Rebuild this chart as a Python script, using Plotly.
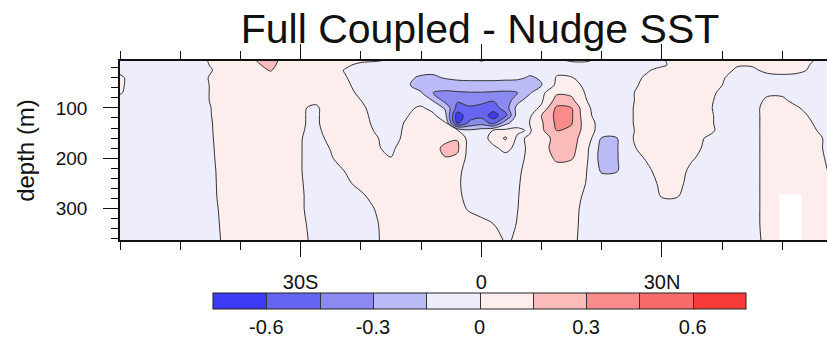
import plotly.graph_objects as go

# Latitude nodes (degrees, negative = south) and depth levels (m)
lat = [-60, -57.5, -55, -52.5, -50, -47.5, -45, -42.5, -40, -37.5, -35, -32.5,
       -30, -27.5, -25, -22.5, -20, -17.5, -15, -12.5, -10, -8, -6, -4, -2, 0,
       2, 4, 6, 8, 10, 12.5, 15, 17.5, 20, 22.5, 25, 27.5, 30, 32.5, 35, 37.5,
       40, 42.5, 45, 47.5, 50, 52.5, 55, 57.5]
depth = [5, 15, 25, 40, 55, 70, 85, 100, 115, 130, 145, 160, 180, 200, 225,
         250, 275, 300, 330, 362]

# Temperature difference (Full Coupled minus Nudge SST), one row per depth
d5 = [-0.05,-0.06,-0.06,-0.06,-0.06,-0.06,0.015,0.06,0.08,0.15,0.24,0.06,0.06,0.06,0.05,0.04,0.03,0.02,-0.01,-0.05,-0.06,-0.07,-0.07,-0.07,-0.05,0.02,-0.04,-0.06,-0.07,-0.07,-0.06,-0.02,0.02,0.02,-0.03,-0.06,-0.05,-0.04,-0.01,0.04,0.06,0.07,0.07,0.04,0.04,0.05,0.06,0.05,0.005,-0.05]
d15 = [-0.05,-0.06,-0.06,-0.06,-0.06,-0.06,0.005,0.06,0.07,0.12,0.2,0.06,0.06,0.06,0.05,0.02,-0.03,-0.05,-0.06,-0.07,-0.08,-0.1,-0.1,-0.1,-0.09,-0.07,-0.07,-0.09,-0.1,-0.1,-0.09,-0.05,-0.04,-0.04,-0.06,-0.07,-0.06,-0.04,-0.02,0.04,0.06,0.07,0.06,0.01,0.01,0.04,0.05,0.04,-0.01,-0.06]
d25 = [-0.03,-0.06,-0.06,-0.06,-0.06,-0.06,-0.01,0.06,0.06,0.1,0.16,0.07,0.06,0.06,0.05,-0.01,-0.05,-0.07,-0.08,-0.09,-0.1,-0.12,-0.12,-0.12,-0.11,-0.1,-0.1,-0.11,-0.12,-0.12,-0.11,-0.03,-0.04,-0.06,-0.07,-0.07,-0.06,-0.015,0.04,0.06,0.07,0.07,0.05,-0.02,-0.02,0.03,0.04,0.03,-0.02,-0.06]
d40 = [0.02,-0.05,-0.06,-0.06,-0.06,-0.06,0.01,0.06,0.06,0.07,0.09,0.07,0.06,0.06,0.05,0.005,-0.05,-0.08,-0.09,-0.12,-0.17,-0.17,-0.14,-0.13,-0.13,-0.13,-0.13,-0.13,-0.13,-0.16,-0.14,0.01,0.005,-0.05,-0.07,-0.07,-0.04,0.02,0.06,0.07,0.07,0.05,0.01,-0.04,-0.05,-0.04,-0.03,-0.04,-0.05,-0.06]
d55 = [0.02,-0.05,-0.06,-0.06,-0.06,-0.06,0.005,0.06,0.06,0.06,0.06,0.06,0.06,0.06,0.05,0.02,-0.04,-0.07,-0.09,-0.13,-0.2,-0.24,-0.22,-0.19,-0.18,-0.18,-0.18,-0.19,-0.2,-0.2,-0.155,0.03,0.03,-0.02,-0.05,-0.07,-0.03,0.04,0.07,0.07,0.06,0.05,0.0,-0.05,-0.06,-0.06,-0.05,-0.05,-0.06,-0.06]
d70 = [0.01,-0.05,-0.06,-0.06,-0.06,-0.06,0.005,0.06,0.06,0.06,0.06,0.06,0.05,0.05,0.05,0.03,-0.02,-0.05,-0.08,-0.1,-0.14,-0.3,-0.33,-0.32,-0.31,-0.31,-0.32,-0.33,-0.3,-0.17,-0.04,0.13,0.12,-0.02,-0.06,-0.06,-0.01,0.05,0.07,0.07,0.06,0.03,-0.02,-0.05,-0.05,-0.02,-0.02,-0.05,-0.06,-0.06]
d85 = [-0.04,-0.06,-0.06,-0.06,-0.06,-0.06,0.005,0.06,0.06,0.06,0.06,0.06,0.03,0.02,0.05,0.05,0.0,-0.04,-0.07,-0.07,-0.06,-0.16,-0.36,-0.43,-0.42,-0.43,-0.44,-0.4,-0.2,-0.08,-0.02,0.2,0.18,0.0,-0.06,-0.06,-0.01,0.05,0.07,0.07,0.06,0.03,-0.04,-0.05,-0.05,0.02,0.02,-0.04,-0.06,-0.06]
d100 = [-0.05,-0.06,-0.06,-0.06,-0.06,-0.06,-0.003,0.06,0.06,0.06,0.06,0.05,0.01,-0.015,0.05,0.05,0.02,-0.04,-0.06,-0.03,0.02,-0.05,-0.17,-0.5,-0.46,-0.47,-0.52,-0.38,-0.1,-0.05,0.02,0.33,0.3,0.02,-0.06,-0.06,-0.005,0.05,0.07,0.07,0.06,0.02,-0.04,-0.05,-0.04,0.04,0.05,0.01,-0.05,-0.06]
d115 = [-0.05,-0.06,-0.06,-0.06,-0.06,-0.06,-0.005,0.06,0.06,0.06,0.06,0.05,0.01,-0.02,0.06,0.06,0.04,-0.04,-0.06,-0.01,0.05,0.03,-0.1,-0.68,-0.52,-0.5,-0.68,-0.5,-0.08,-0.03,0.15,0.34,0.32,0.03,-0.06,-0.07,-0.005,0.05,0.07,0.07,0.05,0.03,-0.04,-0.05,-0.04,0.04,0.05,0.04,-0.02,-0.06]
d130 = [-0.05,-0.06,-0.06,-0.06,-0.06,-0.06,-0.01,0.06,0.06,0.06,0.06,0.05,0.01,-0.02,0.06,0.06,0.05,-0.03,-0.05,0.01,0.06,0.06,0.02,-0.64,-0.42,-0.36,-0.5,-0.2,-0.05,0.0,0.13,0.33,0.31,0.06,-0.05,-0.07,-0.005,0.05,0.07,0.07,0.05,0.03,-0.04,-0.05,-0.04,0.04,0.05,0.05,0.0,-0.06]
d145 = [-0.05,-0.06,-0.06,-0.06,-0.06,-0.06,-0.012,0.06,0.06,0.06,0.06,0.05,0.01,-0.03,0.05,0.06,0.05,-0.01,-0.05,0.02,0.06,0.07,0.1,0.02,-0.12,-0.08,0.01,0.04,0.03,-0.02,0.12,0.3,0.27,0.07,-0.06,-0.08,-0.01,0.05,0.07,0.07,0.05,0.03,-0.03,-0.05,-0.04,0.04,0.05,0.05,0.02,-0.05]
d160 = [-0.05,-0.06,-0.06,-0.06,-0.06,-0.06,-0.015,0.06,0.06,0.06,0.06,0.05,0.005,-0.04,0.03,0.06,0.05,0.01,-0.05,0.03,0.06,0.07,0.09,0.14,-0.06,-0.07,0.06,0.17,-0.03,0.02,0.08,0.2,0.2,0.08,-0.16,-0.155,-0.005,0.05,0.07,0.07,0.04,-0.01,-0.04,-0.05,-0.04,0.04,0.05,0.05,0.04,-0.02]
d180 = [-0.05,-0.06,-0.06,-0.06,-0.06,-0.06,-0.02,0.06,0.06,0.06,0.06,0.05,0.005,-0.05,0.005,0.05,0.05,0.01,-0.02,0.05,0.06,0.08,0.2,0.18,-0.06,-0.07,-0.03,0.04,-0.04,0.02,0.1,0.2,0.2,0.03,-0.2,-0.16,-0.02,0.05,0.07,0.07,0.03,-0.02,-0.05,-0.05,-0.04,0.04,0.05,0.05,0.04,-0.02]
d200 = [-0.05,-0.06,-0.06,-0.06,-0.06,-0.06,-0.025,0.06,0.06,0.06,0.06,0.05,0.005,-0.05,-0.01,0.05,0.05,0.02,0.003,0.05,0.06,0.07,0.14,0.12,-0.06,-0.07,-0.07,-0.05,-0.04,0.03,0.08,0.17,0.16,0.02,-0.21,-0.16,-0.04,0.01,0.06,0.06,0.01,-0.04,-0.05,-0.05,-0.04,0.04,0.05,0.05,0.04,-0.01]
d225 = [-0.05,-0.06,-0.06,-0.06,-0.06,-0.06,-0.035,0.06,0.06,0.06,0.06,0.05,0.005,-0.05,-0.04,0.005,0.05,0.06,0.06,0.06,0.06,0.06,0.06,0.03,-0.05,-0.06,-0.06,-0.05,-0.02,0.04,0.07,0.1,0.1,0.0,-0.17,-0.16,-0.06,-0.02,0.04,0.05,-0.03,-0.05,-0.05,-0.05,-0.04,0.04,0.05,0.05,0.05,0.0]
d250 = [-0.05,-0.06,-0.06,-0.06,-0.06,-0.06,-0.04,0.06,0.06,0.06,0.06,0.05,0.01,-0.05,-0.05,-0.02,0.03,0.06,0.06,0.06,0.06,0.06,0.06,0.02,-0.05,-0.06,-0.06,-0.05,-0.01,0.04,0.06,0.07,0.06,-0.005,-0.06,-0.06,-0.06,-0.04,0.02,0.03,-0.04,-0.05,-0.05,-0.05,-0.04,0.04,0.05,0.05,0.05,0.03]
d275 = [-0.05,-0.06,-0.06,-0.06,-0.06,-0.06,-0.045,0.06,0.06,0.06,0.06,0.05,0.015,-0.05,-0.06,-0.05,-0.02,0.04,0.06,0.06,0.06,0.06,0.06,0.02,-0.03,-0.05,-0.05,-0.04,-0.005,0.04,0.06,0.06,0.04,-0.02,-0.06,-0.06,-0.06,-0.05,0.005,0.005,-0.05,-0.06,-0.06,-0.05,-0.04,0.04,0.05,0.05,0.05,0.05]
d300 = [-0.05,-0.06,-0.06,-0.06,-0.06,-0.06,-0.06,0.055,0.06,0.06,0.06,0.05,0.015,-0.05,-0.06,-0.06,-0.04,0.005,0.06,0.06,0.06,0.06,0.06,0.03,-0.01,-0.04,-0.04,-0.04,-0.002,0.04,0.06,0.06,0.04,-0.04,-0.06,-0.06,-0.06,-0.05,-0.03,-0.03,-0.05,-0.06,-0.06,-0.05,-0.04,0.04,0.05,0.05,0.05,0.05]
d330 = [-0.05,-0.06,-0.06,-0.06,-0.06,-0.06,-0.06,0.04,0.06,0.06,0.06,0.05,0.03,-0.05,-0.06,-0.06,-0.05,-0.01,0.05,0.06,0.06,0.06,0.06,0.05,0.04,0.03,0.0,-0.04,0.005,0.04,0.06,0.06,0.04,-0.05,-0.06,-0.06,-0.06,-0.06,-0.06,-0.06,-0.06,-0.06,-0.06,-0.05,-0.04,0.04,0.05,0.05,0.05,0.05]
d362 = [-0.05,-0.06,-0.06,-0.06,-0.06,-0.06,-0.06,0.028,0.06,0.06,0.06,0.06,0.05,-0.05,-0.06,-0.06,-0.05,-0.015,0.05,0.06,0.06,0.06,0.06,0.06,0.05,0.05,0.04,-0.01,0.01,0.04,0.06,0.06,0.03,-0.05,-0.06,-0.06,-0.06,-0.06,-0.06,-0.06,-0.06,-0.06,-0.06,-0.05,-0.04,0.03,0.05,0.05,0.05,0.05]

temp_diff = [d5, d15, d25, d40, d55, d70, d85, d100, d115, d130, d145, d160,
             d180, d200, d225, d250, d275, d300, d330, d362]
for row in temp_diff:
    assert len(row) == len(lat)

# Land below the shelf (left blank)
land_lat = [49.5, 53.2]
land_top = 272

# Contour levels and the ten fill colours
level_start, level_end, level_step = -0.6, 0.6, 0.15
fill_colors = ["#3b3bf5", "#6565f1", "#8a8af0", "#bbbbf8", "#ededfb",
               "#fdeded", "#fbbbbb", "#f98b8b", "#f76b6b", "#f63a3a"]
cbar_ticks = [-0.6, -0.3, 0, 0.3, 0.6]
lat_ticks = [-30, 0, 30]
lat_ticktext = ["30S", "0", "30N"]
depth_ticks = [100, 200, 300]

FONT = "Liberation Sans, Arial, Helvetica, sans-serif"
W, H = 827, 337
PL, PR, PT, PB = 120, 0, 61, 97
plot_w, plot_h = W - PL - PR, H - PT - PB


def px_x(px):
    """Horizontal page pixel -> paper fraction of the plot area."""
    return (px - PL) / plot_w


def px_y(px):
    """Vertical page pixel (from top) -> paper fraction of the plot area."""
    return (H - PB - px) / plot_h


colorscale = [[i / (len(fill_colors) - 1), c] for i, c in enumerate(fill_colors)]
zlo = level_start - level_step
zhi = level_end + level_step

fig = go.Figure()
fig.add_trace(go.Contour(
    x=lat, y=depth, z=temp_diff,
    autocontour=False, zmin=zlo, zmax=zhi,
    contours=dict(start=level_start, end=level_end, size=level_step,
                  coloring="fill", showlines=True),
    line=dict(color="#333333", width=1, smoothing=1.0),
    colorscale=colorscale,
    hoverinfo="skip",
    colorbar=dict(
        orientation="h",
        x=px_x(479.5), xanchor="center",
        y=px_y(293), yanchor="top",
        lenmode="pixels", len=533,
        thickness=16,
        xpad=0, ypad=0,
        outlinecolor="#222222", outlinewidth=1,
        tickmode="array", tickvals=cbar_ticks,
        ticktext=[f"{v:g}" for v in cbar_ticks],
        ticks="", ticklen=0,
        tickfont=dict(family=FONT, size=20, color="#111111"),
    ),
))

lx0, lx1 = land_lat
fig.add_trace(go.Scatter(
    x=[lx0, lx1, lx1, lx0, lx0],
    y=[land_top, land_top, depth[-1], depth[-1], land_top],
    mode="lines", fill="toself", fillcolor="white",
    line=dict(width=0, color="white"), hoverinfo="skip", showlegend=False,
))

axis_common = dict(
    showline=True, linecolor="#111111", linewidth=1.5,
    ticks="outside", tickcolor="#111111", tickwidth=1.2,
    showgrid=False, zeroline=False,
)

fig.update_xaxes(
    range=[-60, -60 + plot_w / 6.022],
    tickmode="array", tickvals=lat_ticks, ticktext=lat_ticktext,
    ticklen=15, mirror="ticks",
    minor=dict(dtick=10, tick0=0, ticklen=8, ticks="outside",
               tickcolor="#111111", tickwidth=1.2),
    ticklabelstandoff=8,
    tickfont=dict(family=FONT, size=20, color="#111111"),
    **axis_common,
)
fig.update_yaxes(
    range=[362, 7],
    tickmode="array", tickvals=depth_ticks,
    ticklen=15, mirror=False,
    minor=dict(dtick=20, tick0=0, ticklen=7, ticks="outside",
               tickcolor="#111111", tickwidth=1.2),
    ticklabelstandoff=12,
    tickfont=dict(family=FONT, size=19, color="#111111"),
    title=dict(text="depth (m)", font=dict(family=FONT, size=24, color="#111111"),
               standoff=14),
    **axis_common,
)

fig.update_layout(
    width=W, height=H,
    margin=dict(l=PL, r=PR, t=PT, b=PB, pad=0, autoexpand=False),
    paper_bgcolor="white", plot_bgcolor="white",
    title=dict(text="Full Coupled - Nudge SST",
               font=dict(family=FONT, size=41, color="#111111"),
               xref="container", x=480 / W, xanchor="center",
               yref="container", y=1 - 29 / H, yanchor="middle"),
    showlegend=False,
)

fig.write_html("out.html")
